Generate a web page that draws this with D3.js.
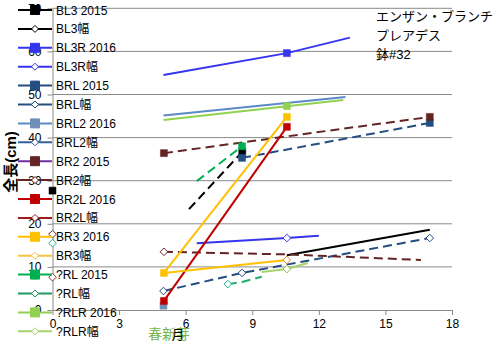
<!DOCTYPE html>
<html><head><meta charset="utf-8">
<script src="https://cdn.jsdelivr.net/npm/d3@7"></script>
<style>body{margin:0;background:#fff}svg{display:block}text{font-family:"Liberation Sans","Noto Sans CJK JP",sans-serif}</style>
</head><body><div id="c"></div>
<script>
// ---- data (month, length cm); null = gap ----
const seriesNames = ["BL3 2015","BL3幅","BL3R 2016","BL3R幅","BRL 2015","BRL幅","BRL2 2016","BRL2幅","BR2 2015","BR2幅","BR2L 2016","BR2L幅","BR3 2016","BR3幅","?RL 2015","?RL幅","?RLR 2016","?RLR幅"];
const bl3_2015  = [[0,27.7],null,[6.15,23.4],[8.55,36.7]];
const bl3_w     = [[10.56,12.7],[17,18.6]];
const bl3r_2016 = [[5,54.5],[10.56,59.6],[13.4,63.2]];
const bl3r_w    = [[6.5,15.5],[10.56,16.7],[12,17.2]];
const brl_2015  = [[8.54,35.3],[17,43.4]];
const brl_w     = [[5,4.4],[8.54,8.6],[17,16.7]];
const brl2_2016 = [[5,1.0],null,[5,45.1],[13.2,49.4]];
const brl2_w    = [];
const br2_2015  = [[5.02,36.4],[17,44.8]];
const br2_w     = [[0,17.6],null,[5.02,13.5],[10.56,12.9],[16.6,11.6]];
const br2l_2016 = [[5.02,2.1],[10.56,42.5]];
const br2l_w    = [[0,7.6]];
const br3_2016  = [[5.02,8.6],[10.56,44.8]];
const br3_w     = [[5.02,8.6],[10.56,11.6]];
const rl_2015   = [[6.5,29.9],[8.54,38.0]];
const rl_w      = [[0,15.5],null,[7.9,6.0],[8.54,6.5],[9.43,7.7]];
const rlr_2016  = [[5,44.1],[10.56,47.3],[13.1,48.7]];
const rlr_w     = [[9.43,8.8],[10.56,9.5],[11.5,10.9]];
const xTicks = [0,3,6,9,12,15,18];
const yTicks = [0,10,20,30,40,50,60,70];
const titleLines = ["エンザン・ブランチ","プレアデス","鉢#32"];

const seriesData = [bl3_2015,bl3_w,bl3r_2016,bl3r_w,brl_2015,brl_w,brl2_2016,brl2_w,br2_2015,br2_w,br2l_2016,br2l_w,br3_2016,br3_w,rl_2015,rl_w,rlr_2016,rlr_w];

// ---- styles ----
const styles = [
 {line:"#000000",leg:"#000000",mark:"square",mfill:"#000000",mstroke:"#000000",dash:"9,5",mi:[0,3]},
 {line:"#000000",leg:"#000000",mark:"diamond",mfill:"#fff",mstroke:"#000000",dash:null,mi:[]},
 {line:"#3535F0",leg:"#3535F0",mark:"square",mfill:"#3535F0",mstroke:"#3535F0",dash:null,mi:[1]},
 {line:"#3535F0",leg:"#3535F0",mark:"diamond",mfill:"#fff",mstroke:"#3535F0",dash:null,mi:[1]},
 {line:"#244D80",leg:"#244D80",mark:"square",mfill:"#244D80",mstroke:"#244D80",dash:"9,5",mi:[0,1]},
 {line:"#244D80",leg:"#244D80",mark:"diamond",mfill:"#fff",mstroke:"#244D80",dash:"9,5",mi:[0,1,2]},
 {line:"#5A8AC6",leg:"#5A8AC6",mark:"square",mfill:"#6E8FB8",mstroke:"#6E8FB8",dash:null,mi:[0]},
 {line:"#36609A",leg:"#36609A",mark:"diamond",mfill:"#fff",mstroke:"#36609A",dash:null,mi:[]},
 {line:"#632523",leg:"#7030A0",mark:"square",mfill:"#632523",mstroke:"#632523",dash:"9,5",mi:[0,1]},
 {line:"#632523",leg:"#632523",mark:"diamond",mfill:"#fff",mstroke:"#632523",dash:"9,5",mi:[0,2]},
 {line:"#C00000",leg:"#C00000",mark:"square",mfill:"#C00000",mstroke:"#C00000",dash:null,mi:[0,1]},
 {line:"#9E1B1B",leg:"#9E1B1B",mark:"diamond",mfill:"#fff",mstroke:"#7A3B2B",dash:null,mi:[0]},
 {line:"#FFC000",leg:"#FFC000",mark:"square",mfill:"#FFC000",mstroke:"#FFC000",dash:null,mi:[0,1]},
 {line:"#FFC000",leg:"#F5C242",mark:"diamond",mfill:"#fff",mstroke:"#E8822A",dash:null,mi:[1]},
 {line:"#00B050",leg:"#00B050",mark:"square",mfill:"#00B050",mstroke:"#00B050",dash:"9,5",mi:[1]},
 {line:"#1FAE6E",leg:"#1E9A60",mark:"diamond",mfill:"#fff",mstroke:"#1FAE8E",dash:"9,5",mi:[0,2]},
 {line:"#92D050",leg:"#92D050",mark:"square",mfill:"#92D050",mstroke:"#92D050",dash:null,mi:[1]},
 {line:"#A4D46A",leg:"#A4D46A",mark:"diamond",mfill:"#fff",mstroke:"#8CC152",dash:null,mi:[1]}
];

const W=499,H=348;
const svg=d3.select("#c").append("svg").attr("width",W).attr("height",H);
const x=d3.scaleLinear().domain([0,18]).range([52.5,452]);
const y=d3.scaleLinear().domain([0,70]).range([310,8.3]);

// gridlines
svg.append("g").selectAll("line").data(yTicks.filter(v=>v>0)).join("line")
  .attr("x1",x(0)).attr("x2",x(18)).attr("y1",d=>y(d)).attr("y2",d=>y(d))
  .attr("stroke","#8a8a8a").attr("stroke-width",1);

const yAx=svg.append("g").attr("transform",`translate(${x(0)},0)`)
  .call(d3.axisLeft(y).tickValues(yTicks).tickSize(5).tickSizeOuter(0).tickPadding(6));
const xAx=svg.append("g").attr("transform",`translate(0,${y(0)})`)
  .call(d3.axisBottom(x).tickValues(xTicks).tickSize(5).tickSizeOuter(0).tickPadding(4));
[yAx,xAx].forEach(g=>{g.select(".domain").attr("stroke","#8a8a8a");g.selectAll(".tick line").attr("stroke","#8a8a8a");
  g.selectAll("text").attr("font-size",12).attr("fill","#000").attr("font-family","Liberation Sans, sans-serif");});

// series
const line=d3.line().defined(d=>d!==null).x(d=>x(d[0])).y(d=>y(d[1]));
const diamondPath=s=>`M0,${-s}L${s},0L0,${s}L${-s},0Z`;
seriesData.forEach((data,i)=>{
  const st=styles[i];
  const g=svg.append("g");
  g.append("path").datum(data).attr("d",line).attr("fill","none").attr("stroke",st.line)
   .attr("stroke-width",2).attr("stroke-dasharray",st.dash);
  const pts=st.mi.map(k=>data[k]).filter(d=>d);
  g.selectAll(".m").data(pts).join("path")
   .attr("transform",d=>`translate(${x(d[0])},${y(d[1])})`)
   .attr("d",st.mark==="square"?"M-3.5,-3.5h7v7h-7Z":diamondPath(3.8))
   .attr("fill",st.mfill).attr("stroke",st.mstroke).attr("stroke-width",st.mark==="square"?0.5:1);
});

// legend
const lg=svg.append("g");
seriesNames.forEach((n,i)=>{
  const st=styles[i];
  const ly=10+i*18.9;
  lg.append("line").attr("x1",18).attr("x2",52).attr("y1",ly).attr("y2",ly).attr("stroke",st.leg).attr("stroke-width",2);
  lg.append("path").attr("transform",`translate(35,${ly})`)
    .attr("d",st.mark==="square"?"M-4.5,-4.5h9v9h-9Z":diamondPath(3.5))
    .attr("fill",st.mark==="square"?st.mfill:"#fff").attr("stroke",st.mark==="square"?st.mfill:st.leg).attr("stroke-width",1);
  lg.append("text").attr("x",56).attr("y",ly+4.5).attr("font-size",12).attr("fill","#000").text(n);
});

// axis titles & labels
svg.append("text").attr("transform","translate(16,162) rotate(-90)").attr("text-anchor","middle")
  .attr("font-size",15).attr("font-weight","bold").attr("font-family","Noto Sans CJK JP, sans-serif").text("全長(cm)");
svg.append("text").attr("x",148).attr("y",339).attr("font-size",14).attr("fill","#77B545")
  .attr("font-family","Noto Sans CJK JP, sans-serif").text("春新芽");
svg.append("text").attr("x",178).attr("y",339).attr("text-anchor","middle").attr("font-size",13).attr("fill","#000")
  .attr("font-family","Noto Sans CJK JP, sans-serif").text("月");
svg.append("g").selectAll("text").data(titleLines).join("text")
  .attr("x",376).attr("y",(d,i)=>21+i*19).attr("font-size",13).attr("fill","#000")
  .attr("font-family","Noto Sans CJK JP, sans-serif").text(d=>d);
</script></body></html>
